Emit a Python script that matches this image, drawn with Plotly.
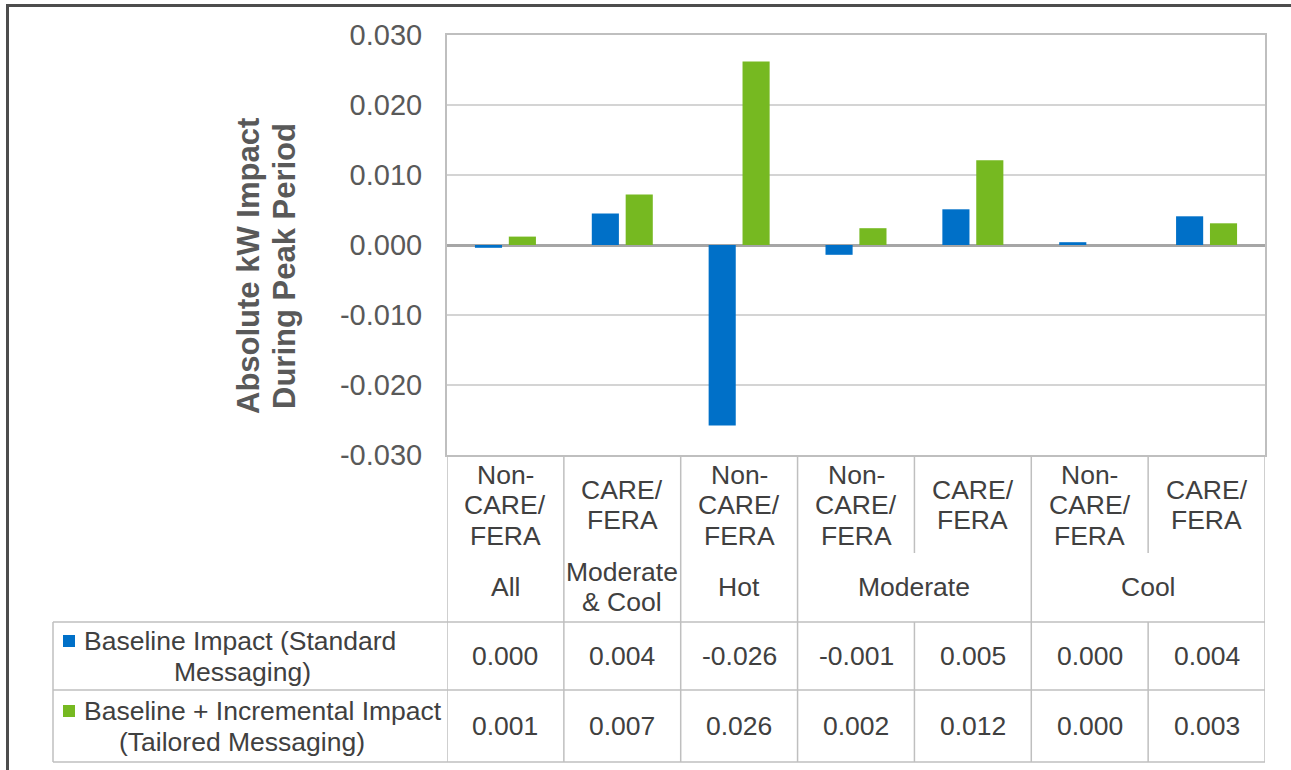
import plotly.graph_objects as go

# ---------------- data ----------------
sub_labels = ["Non-<br>CARE/<br>FERA", "CARE/<br>FERA", "Non-<br>CARE/<br>FERA",
              "Non-<br>CARE/<br>FERA", "CARE/<br>FERA", "Non-<br>CARE/<br>FERA", "CARE/<br>FERA"]
groups = ["All", "Moderate<br>& Cool", "Hot", "Moderate", "Moderate", "Cool", "Cool"]
baseline = [-0.0004, 0.0045, -0.0258, -0.0014, 0.0051, 0.0004, 0.0041]
tailored = [0.0012, 0.0072, 0.0262, 0.0024, 0.0121, 0.0000, 0.0031]
series_names = ["Baseline Impact (Standard<br>Messaging)",
                "Baseline + Incremental Impact<br>(Tailored Messaging)"]
y_tickvals = [0.03, 0.02, 0.01, 0.0, -0.01, -0.02, -0.03]
y_ticktext = ["0.030", "0.020", "0.010", "0.000", "-0.010", "-0.020", "-0.030"]
y_title = ["Absolute kW Impact", "During Peak Period"]

# ---------------- style ----------------
BLUE = "#0070C8"
GREEN = "#76B921"
TXT = "#404040"
GRID = "#D4D4D4"
BORDER = "#BFBFBF"
FONT = "Liberation Sans, Arial, sans-serif"

W, H = 1291, 770
L, R, T, B = 447, 1265, 35, 455   # plot area in page pixels


def px(x):
    return (x - L) / (R - L)


def py(y):
    return (B - y) / (B - T)


def fmt(v):
    s = f"{v:.3f}"
    return "0.000" if s == "-0.000" else s


idx = list(range(len(sub_labels)))

fig = go.Figure()
fig.add_trace(go.Bar(x=idx, y=baseline, marker_color=BLUE, showlegend=False,
                     marker_line_width=0, name="baseline"))
fig.add_trace(go.Bar(x=idx, y=tailored, marker_color=GREEN, showlegend=False,
                     marker_line_width=0, name="tailored"))

shapes = []
ann = []


def hline(y, x0, x1, xref="paper", color=BORDER, width=1.5):
    shapes.append(dict(type="line", xref=xref, yref="paper", x0=x0, x1=x1,
                       y0=py(y), y1=py(y), line=dict(color=color, width=width)))


def vline(x, y0, y1, xref="x", color=BORDER, width=1.5):
    shapes.append(dict(type="line", xref=xref, yref="paper", x0=x, x1=x,
                       y0=py(y0), y1=py(y1), line=dict(color=color, width=width)))


# table grid
n = len(idx)
vline(-0.5, B, 762)
vline(n - 0.5, B, 762)
for i in range(n - 1):
    if groups[i] == groups[i + 1]:
        vline(i + 0.5, B, 553)
        vline(i + 0.5, 622, 762)
    else:
        vline(i + 0.5, B, 762)
for yy in (622, 690, 762):
    hline(yy, px(53), 1.0)
vline(px(53), 622, 762, xref="paper")

# outer frame of the page (dark)
shapes.append(dict(type="line", xref="paper", yref="paper", x0=px(6), x1=px(W + 5),
                   y0=py(5.5), y1=py(5.5), line=dict(color="#4D4D4D", width=3)))
shapes.append(dict(type="line", xref="paper", yref="paper", x0=px(7.5), x1=px(7.5),
                   y0=py(4), y1=py(H + 5), line=dict(color="#4D4D4D", width=3)))

# legend keys
shapes.append(dict(type="rect", xref="paper", yref="paper", x0=px(63), x1=px(75),
                   y0=py(647), y1=py(635), fillcolor=BLUE, line_width=0))
shapes.append(dict(type="rect", xref="paper", yref="paper", x0=px(63), x1=px(75),
                   y0=py(717), y1=py(705), fillcolor=GREEN, line_width=0))


def text(x, y, s, size=26.5, xref="paper", xanchor="center", color=TXT, **kw):
    ann.append(dict(x=x, y=py(y), xref=xref, yref="paper", text=s, showarrow=False,
                    xanchor=xanchor, yanchor="middle", borderpad=0,
                    font=dict(size=size, color=color, family=FONT), **kw))


# sub-category labels
for i, lab in enumerate(sub_labels):
    lines = lab.split("<br>")
    k = len(lines)
    for j, ln in enumerate(lines):
        yy = 505 + (j - (k - 1) / 2) * 30.5
        text(i, yy, ln, xref="x")

# group labels
start = 0
for i in range(1, n + 1):
    if i == n or groups[i] != groups[start]:
        cx = (start + i - 1) / 2
        lines = groups[start].split("<br>")
        k = len(lines)
        for j, ln in enumerate(lines):
            yy = 587 + (j - (k - 1) / 2) * 30
            text(cx, yy, ln, xref="x")
        start = i

# data values
for i in idx:
    text(i, 656, fmt(baseline[i]), xref="x")
    text(i, 726, fmt(tailored[i]), xref="x")

# series names (legend cells)
for r, (name, yc) in enumerate(zip(series_names, (656, 726))):
    l1, l2 = name.split("<br>")
    text(px(83), yc - 15.5, l1, xanchor="left")
    text(px(242), yc + 15.5, l2)

# y axis title
for j, ln in enumerate(y_title):
    ann.append(dict(x=px(248 + 36 * j), y=py(266), xref="paper", yref="paper", text=ln,
                    showarrow=False, textangle=-90, xanchor="center", yanchor="middle",
                    font=dict(size=31, color="#595959", family=FONT, weight="bold")))

fig.update_layout(
    width=W, height=H,
    margin=dict(l=L, r=W - R, t=T, b=H - B, pad=0),
    paper_bgcolor="white", plot_bgcolor="white",
    barmode="group", bargap=0.42, bargroupgap=0.2,
    font=dict(family=FONT, color=TXT),
    shapes=shapes, annotations=ann, showlegend=False,
)
fig.update_xaxes(range=[-0.5, n - 0.5], showticklabels=False, showgrid=False,
                 zeroline=False, showline=True, mirror=True, linecolor=BORDER,
                 linewidth=2, ticks="")
fig.update_yaxes(range=[-0.03, 0.03], tickvals=y_tickvals, ticktext=y_ticktext,
                 showgrid=True, gridcolor=GRID, gridwidth=1.5,
                 zeroline=True, zerolinecolor="#A6A6A6", zerolinewidth=2.5,
                 showline=True, mirror=True, linecolor=BORDER, linewidth=2,
                 ticks="", ticklabelstandoff=17,
                 tickfont=dict(size=29, color="#595959", family=FONT))

fig.write_html("out.html",
               config={"displayModeBar": False},
               post_script="document.body.style.margin='0';"
                           "document.body.style.overflow='hidden';")
